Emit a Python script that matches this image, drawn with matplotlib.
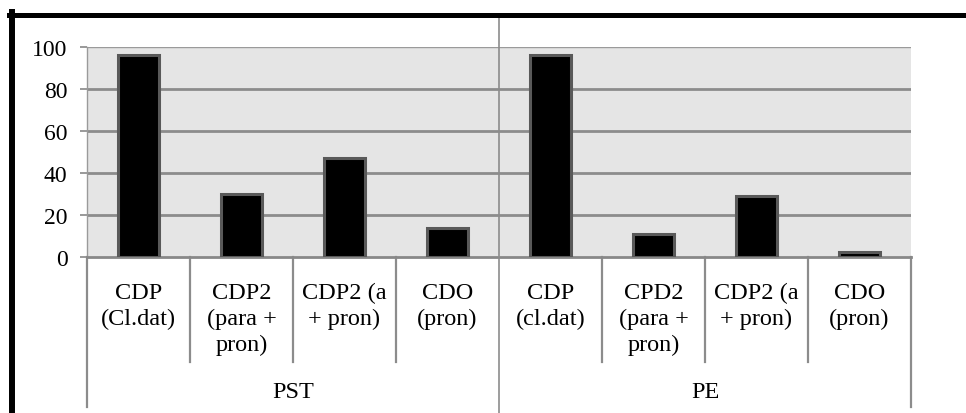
import matplotlib
matplotlib.use("Agg")
import matplotlib.pyplot as plt
import matplotlib.transforms as mtransforms
from matplotlib.lines import Line2D

# --- data ---
categories = [
    "CDP\n(Cl.dat)", "CDP2\n(para +\npron)", "CDP2 (a\n+ pron)", "CDO\n(pron)",
    "CDP\n(cl.dat)", "CPD2\n(para +\npron)", "CDP2 (a\n+ pron)", "CDO\n(pron)",
]
values = [96, 30, 47, 14, 96, 11, 29, 2.5]
groups = ["PST", "PE"]
group_size = 4
y_ticks = [0, 20, 40, 60, 80, 100]

plt.rcParams["font.family"] = "serif"
plt.rcParams["font.serif"] = ["Liberation Serif", "DejaVu Serif"]
FS = 17.5
W, H = 966, 414

fig = plt.figure(figsize=(W / 100, H / 100), dpi=100)
ax = fig.add_axes([87 / W, 1 - 258 / H, (911 - 87) / W, 210 / H])

ax.set_facecolor("#e5e5e5")
x = list(range(len(values)))
ax.bar(x, values, width=0.39, color="black", edgecolor="#595959", linewidth=2.2, zorder=3)

ax.set_xlim(-0.5, len(values) - 0.5)
ax.set_ylim(0, 100)
ax.set_yticks(y_ticks)
ax.set_yticklabels([str(t) for t in y_ticks], fontsize=17)
ax.tick_params(axis="y", length=5, width=1.2, color="#888888", pad=9)
ax.set_xticks([])

for t in y_ticks[1:-1]:
    ax.axhline(t, color="#8c8c8c", linewidth=2.0, zorder=1)
ax.axhline(100, color="#9a9a9a", linewidth=1.0, zorder=1)

for side in ["top", "right"]:
    ax.spines[side].set_visible(False)
ax.spines["left"].set_color("#9a9a9a")
ax.spines["left"].set_linewidth(1.0)
ax.spines["bottom"].set_color("#888888")
ax.spines["bottom"].set_linewidth(2.0)

# category / group labels below the axis
trans = mtransforms.blended_transform_factory(ax.transData, fig.transFigure)
y_axis = 1 - 258 / H
for i, lab in enumerate(categories):
    ax.text(i, 1 - 283 / H, lab, transform=trans, ha="center", va="top",
            fontsize=FS, linespacing=1.3, clip_on=False)

for g, name in enumerate(groups):
    center = g * group_size + (group_size - 1) / 2
    ax.text(center, 1 - 393 / H, name, transform=trans, ha="center", va="center",
            fontsize=FS, clip_on=False)

# divider lines between categories
for k in range(1, len(values)):
    if k % group_size == 0:
        continue
    ax.add_line(Line2D([k - 0.5, k - 0.5], [y_axis, 1 - 363 / H], transform=trans,
                       color="#8c8c8c", linewidth=1.6, clip_on=False))
for xb in [-0.5, len(values) - 0.5]:
    ax.add_line(Line2D([xb, xb], [y_axis, 1 - 408 / H], transform=trans,
                       color="#8c8c8c", linewidth=1.6, clip_on=False))
# group separator runs the full height
ax.add_line(Line2D([group_size - 0.5, group_size - 0.5], [0, 1 - 17 / H], transform=trans,
                   color="#8c8c8c", linewidth=1.2, clip_on=False, zorder=5))

# heavy outer frame (left and top edges)
fx = 11.5 / W
fy = 1 - 15.5 / H
fig.add_artist(Line2D([fx, fx], [0, fy + 2.5 / H], color="black", linewidth=4.3))
fig.add_artist(Line2D([fx - 3 / W, 1], [fy, fy], color="black", linewidth=3.6))

fig.savefig("out.png", dpi=100)
